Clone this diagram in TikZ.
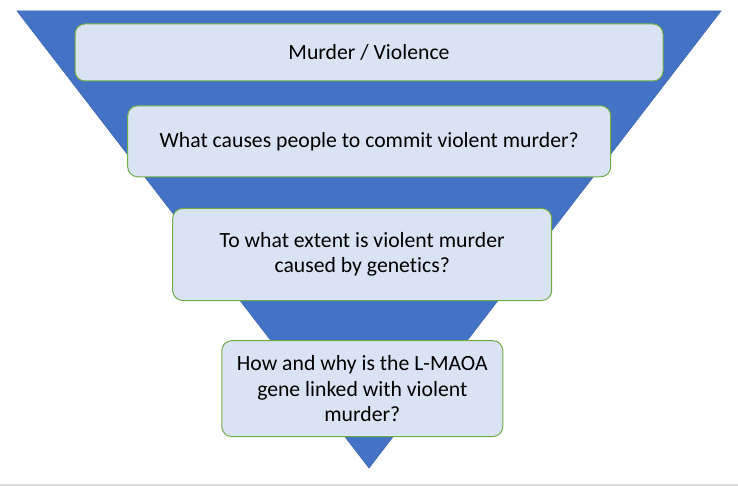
\documentclass[tikz,border=0pt]{standalone}
\usepackage{fontspec}
\setmainfont[Ligatures=NoCommon]{Carlito}
\definecolor{triblue}{HTML}{4472C4}
\definecolor{triedge}{HTML}{3E68B5}
\definecolor{boxfill}{HTML}{DAE3F3}
\definecolor{boxline}{HTML}{70AD47}
\definecolor{bottomgray}{HTML}{DCDCDC}
\begin{document}
\begin{tikzpicture}[x=1pt,y=-1pt,
  funnelbox/.style={draw=boxline, fill=boxfill, line width=1pt, rounded corners=10pt,
    inner sep=0pt, align=center, font=\fontsize{21.7}{25.6}\selectfont, text=black}]
\useasboundingbox (0,0) rectangle (738,486);
\fill[bottomgray] (0,483.5) rectangle (738,486);
\filldraw[fill=triblue, draw=triedge, line width=0.6pt] (17,11) -- (721,11) -- (369,468) -- cycle;
\node[funnelbox, minimum width=588pt, minimum height=57pt] (b1) at (369,52.5) {Murder / Violence};
\node[funnelbox, minimum width=483pt, minimum height=71pt] (b2) at (369.2,141.3) {What causes people to commit violent murder?};
\node[funnelbox, minimum width=379pt, minimum height=92pt] (b3) at (362.2,254.5) {To what extent is violent murder\\caused by genetics?};
\node[funnelbox, minimum width=281pt, minimum height=96pt] (b4) at (362.3,388.6) {How and why is the L-MAOA\\gene linked with violent\\murder?};
\end{tikzpicture}
\end{document}
